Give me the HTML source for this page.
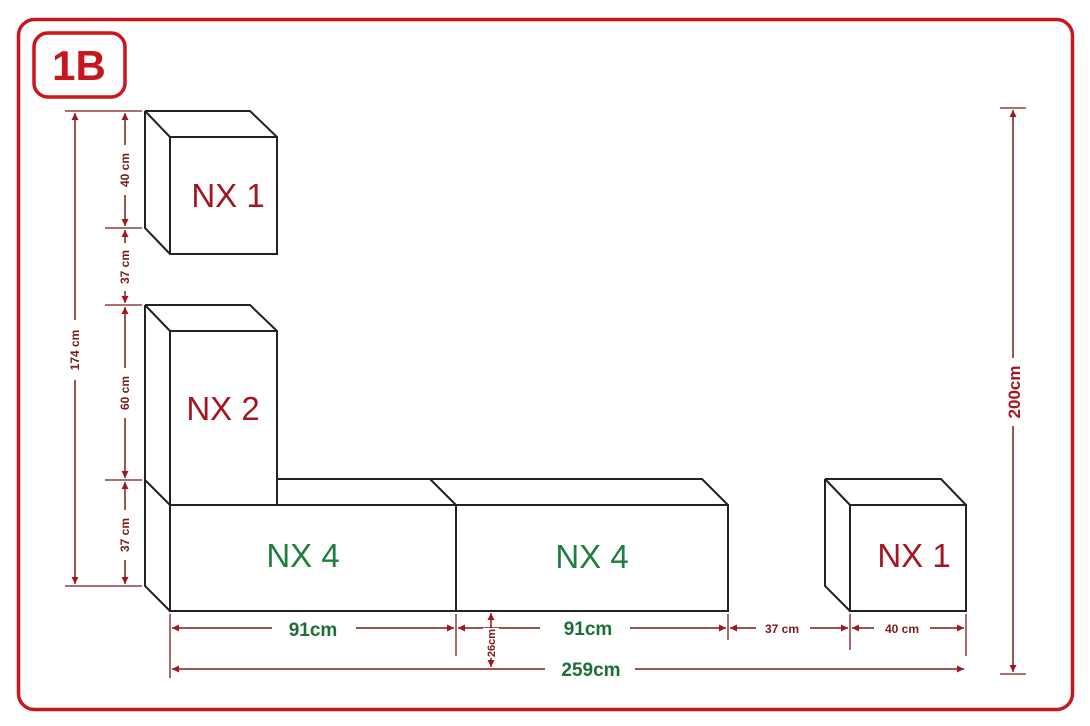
<!DOCTYPE html>
<html><head><meta charset="utf-8"><style>
html,body{margin:0;padding:0;background:#fff;width:1090px;height:726px;overflow:hidden}
svg{display:block;font-family:"Liberation Sans",sans-serif}
</style></head><body>
<svg width="1090" height="726" viewBox="0 0 1090 726" xmlns="http://www.w3.org/2000/svg">
<defs>
<marker id="a" viewBox="0 0 10 10" refX="10" refY="5" markerWidth="10" markerHeight="7" orient="auto-start-reverse" markerUnits="userSpaceOnUse"><path d="M0,0 L10,5 L0,10 z" fill="#a3141c"/></marker>
</defs>
<rect x="18.5" y="19.5" width="1054" height="690" rx="16" fill="none" stroke="#c8161e" stroke-width="3.5"/>
<rect x="34" y="33" width="91" height="64" rx="14" fill="none" stroke="#c8161e" stroke-width="3.5"/>
<text x="79" y="80" text-anchor="middle" font-size="42" font-weight="bold" fill="#c8161e">1B</text>

<g fill="none" stroke="#222" stroke-width="2">
<!-- NX1 top -->
<path d="M145,111 H250 L277,137 M145,111 V228 L170,254 M145,111 L170,137"/>
<rect x="170" y="137" width="107" height="117"/>
<!-- NX2 -->
<path d="M145,305 H250 L277,331 M145,305 V480 M145,305 L170,331"/>
<rect x="170" y="331" width="107" height="174"/>
<!-- NX4 -->
<path d="M277,479 H702 L728,505 M430,479 L456,505 M145,480 V586 L170,611 M145,480 L170,505"/>
<rect x="170" y="505" width="286" height="106"/>
<rect x="456" y="505" width="272" height="106"/>
<!-- NX1 right -->
<path d="M825,479 H941 L966,505 M825,479 V586 L850,611 M825,479 L850,505"/>
<rect x="850" y="505" width="116" height="106"/>
</g>

<g font-size="33" text-anchor="middle">
<text x="228" y="207" fill="#a31620">NX 1</text>
<text x="223" y="420" fill="#a31620">NX 2</text>
<text x="303" y="567" fill="#1e8040">NX 4</text>
<text x="592" y="568" fill="#1e8040">NX 4</text>
<text x="914" y="567" fill="#a31620">NX 1</text>
</g>

<g stroke="#7a1a1a" stroke-width="1.3" fill="none">
<!-- ticks left -->
<path d="M65,111 H142 M65,586 H142 M105,228 H142 M105,305 H142 M105,480 H142"/>
<path d="M1000,108 H1026 M1000,674 H1026"/>
<path d="M170,614 V678 M456,614 V656 M728,614 V640 M850,614 V650 M966,614 V656"/>
</g>
<g stroke="#7a1a1a" stroke-width="1.5" fill="none" marker-start="url(#a)" marker-end="url(#a)">
<line x1="75" y1="113" x2="75" y2="584"/>
<line x1="125" y1="113" x2="125" y2="226"/>
<line x1="125" y1="230" x2="125" y2="303"/>
<line x1="125" y1="307" x2="125" y2="478"/>
<line x1="125" y1="482" x2="125" y2="584"/>
<line x1="1013" y1="110" x2="1013" y2="672"/>
<line x1="172" y1="628" x2="454" y2="628"/>
<line x1="458" y1="628" x2="726" y2="628"/>
<line x1="730" y1="628" x2="848" y2="628"/>
<line x1="852" y1="628" x2="964" y2="628"/>
<line x1="172" y1="669" x2="964" y2="669"/>
<line x1="491" y1="613" x2="491" y2="667"/>
</g>
<!-- label backgrounds -->
<g fill="#fff">
<rect x="66" y="320" width="18" height="60"/>
<rect x="116" y="145" width="18" height="50"/>
<rect x="116" y="243" width="18" height="48"/>
<rect x="116" y="368" width="18" height="50"/>
<rect x="116" y="510" width="18" height="50"/>
<rect x="1003" y="358" width="22" height="68"/>
<rect x="272" y="617" width="84" height="22"/>
<rect x="540" y="617" width="90" height="22"/>
<rect x="756" y="619" width="54" height="18"/>
<rect x="874" y="619" width="56" height="18"/>
<rect x="545" y="658" width="90" height="22"/>
<rect x="483" y="628" width="16" height="30"/>
</g>
<g fill="#7a1a1a" font-weight="bold" font-size="12" text-anchor="middle">
<text transform="translate(79,350) rotate(-90)">174 cm</text>
<text transform="translate(129,170) rotate(-90)">40 cm</text>
<text transform="translate(129,267) rotate(-90)">37 cm</text>
<text transform="translate(129,393) rotate(-90)">60 cm</text>
<text transform="translate(129,535) rotate(-90)">37 cm</text>
<text transform="translate(495,643) rotate(-90)" font-size="11">26cm</text>
<text x="782" y="633">37 cm</text>
<text x="902" y="633">40 cm</text>
</g>
<text transform="translate(1020,392) rotate(-90)" text-anchor="middle" font-size="17" font-weight="bold" fill="#a31620">200cm</text>
<g fill="#1e6e38" font-weight="bold" font-size="19" text-anchor="middle">
<text x="313" y="636">91cm</text>
<text x="588" y="635">91cm</text>
<text x="591" y="676">259cm</text>
</g>
</svg>
</body></html>
